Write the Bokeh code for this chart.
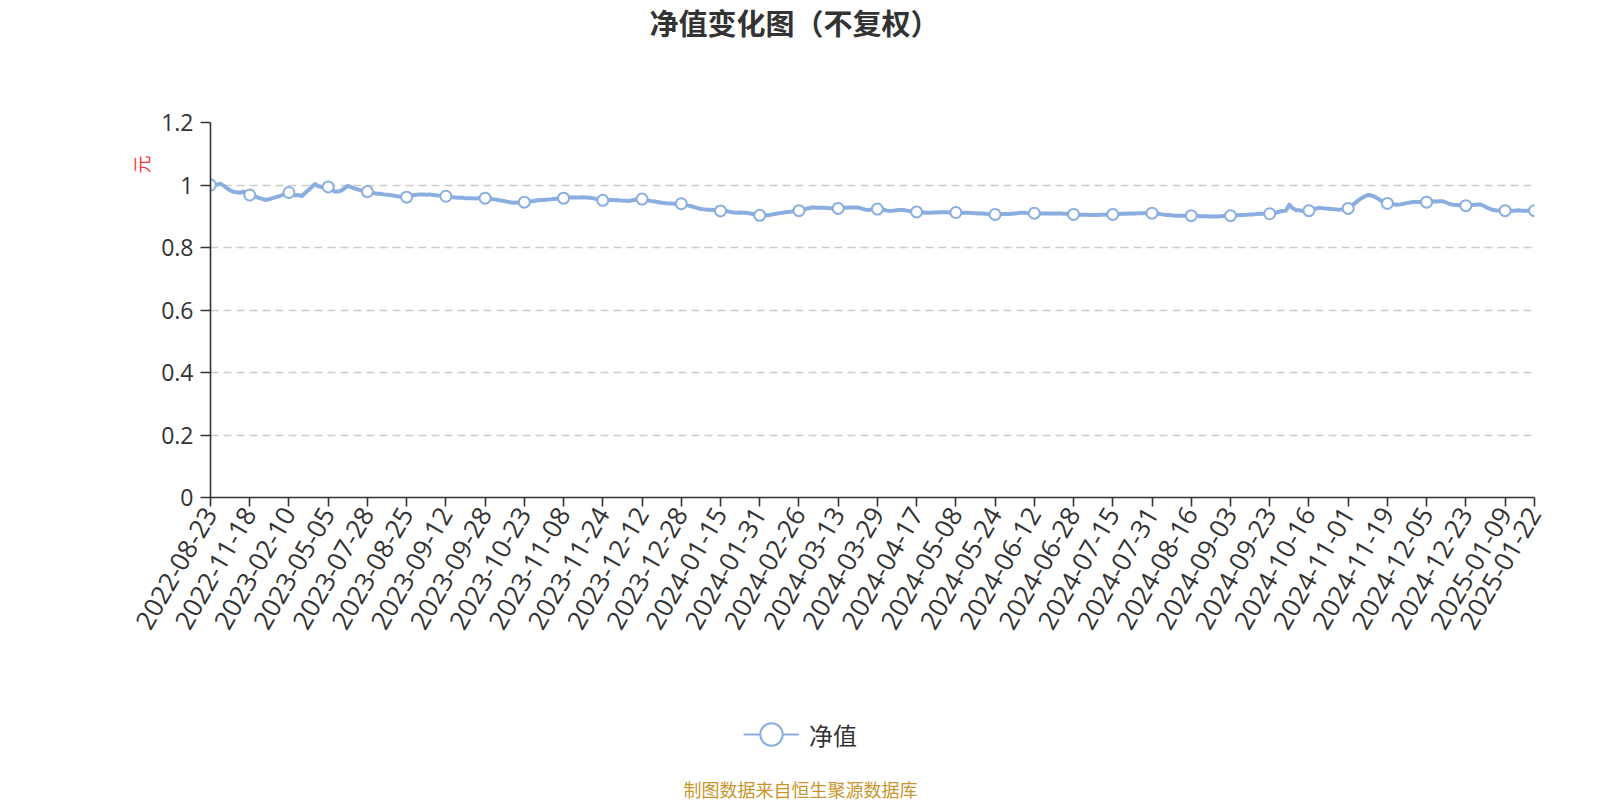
import math
from bokeh.plotting import figure
from bokeh.layouts import column
from bokeh.models import Range1d, FixedTicker, Legend, LegendItem, Title
from bokeh.core.properties import value
from bokeh.embed import file_html
from bokeh.resources import INLINE

# ---------------- data ----------------
nav = [
    1.000, 1.002, 1.001, 1.004, 0.998, 0.990, 0.983, 0.978, 0.977, 0.975, 0.979, 0.973,
    0.968, 0.966, 0.962, 0.958, 0.955, 0.952, 0.955, 0.958, 0.961, 0.964, 0.968, 0.972,
    0.976, 0.971, 0.967, 0.967, 0.965, 0.975, 0.984, 0.994, 1.003, 0.996, 0.993, 0.995,
    0.994, 0.986, 0.979, 0.979, 0.982, 0.990, 0.997, 0.993, 0.989, 0.986, 0.983, 0.981,
    0.979, 0.976, 0.974, 0.972, 0.972, 0.970, 0.969, 0.968, 0.966, 0.964, 0.963, 0.962,
    0.961, 0.964, 0.967, 0.969, 0.970, 0.970, 0.969, 0.970, 0.968, 0.967, 0.966, 0.965,
    0.964, 0.962, 0.961, 0.960, 0.959, 0.959, 0.958, 0.958, 0.958, 0.957, 0.958, 0.958,
    0.958, 0.957, 0.955, 0.954, 0.952, 0.950, 0.948, 0.946, 0.944, 0.943, 0.944, 0.944,
    0.945, 0.946, 0.948, 0.949, 0.951, 0.952, 0.952, 0.953, 0.954, 0.955, 0.956, 0.957,
    0.958, 0.959, 0.960, 0.960, 0.960, 0.960, 0.961, 0.960, 0.959, 0.958, 0.955, 0.953,
    0.951, 0.951, 0.952, 0.952, 0.951, 0.951, 0.950, 0.950, 0.949, 0.951, 0.953, 0.954,
    0.955, 0.953, 0.950, 0.948, 0.947, 0.945, 0.943, 0.942, 0.941, 0.941, 0.940, 0.940,
    0.940, 0.938, 0.935, 0.932, 0.929, 0.926, 0.923, 0.922, 0.921, 0.921, 0.920, 0.919,
    0.917, 0.917, 0.916, 0.914, 0.912, 0.911, 0.912, 0.911, 0.911, 0.909, 0.907, 0.905,
    0.903, 0.902, 0.903, 0.904, 0.906, 0.908, 0.910, 0.911, 0.913, 0.914, 0.915, 0.917,
    0.918, 0.920, 0.923, 0.926, 0.928, 0.928, 0.927, 0.927, 0.927, 0.926, 0.926, 0.925,
    0.925, 0.926, 0.927, 0.928, 0.928, 0.928, 0.928, 0.925, 0.922, 0.920, 0.921, 0.922,
    0.923, 0.921, 0.920, 0.918, 0.917, 0.918, 0.919, 0.920, 0.920, 0.918, 0.916, 0.915,
    0.914, 0.913, 0.912, 0.911, 0.911, 0.912, 0.912, 0.913, 0.913, 0.913, 0.912, 0.912,
    0.912, 0.912, 0.911, 0.911, 0.911, 0.910, 0.910, 0.909, 0.909, 0.908, 0.907, 0.907,
    0.906, 0.906, 0.907, 0.907, 0.907, 0.908, 0.909, 0.910, 0.911, 0.911, 0.910, 0.910,
    0.910, 0.910, 0.909, 0.909, 0.909, 0.909, 0.909, 0.909, 0.909, 0.908, 0.908, 0.907,
    0.906, 0.906, 0.905, 0.905, 0.905, 0.904, 0.904, 0.904, 0.905, 0.905, 0.905, 0.906,
    0.906, 0.907, 0.907, 0.908, 0.908, 0.909, 0.909, 0.909, 0.910, 0.910, 0.910, 0.910,
    0.910, 0.909, 0.908, 0.906, 0.905, 0.904, 0.903, 0.902, 0.902, 0.902, 0.902, 0.902,
    0.902, 0.901, 0.901, 0.900, 0.900, 0.900, 0.899, 0.899, 0.899, 0.900, 0.901, 0.901,
    0.902, 0.902, 0.903, 0.904, 0.904, 0.905, 0.906, 0.906, 0.907, 0.908, 0.908, 0.908,
    0.908, 0.910, 0.912, 0.915, 0.917, 0.918, 0.937, 0.926, 0.920, 0.919, 0.917, 0.917,
    0.918, 0.921, 0.924, 0.927, 0.926, 0.925, 0.924, 0.923, 0.922, 0.921, 0.922, 0.923,
    0.925, 0.933, 0.941, 0.950, 0.957, 0.963, 0.968, 0.967, 0.963, 0.957, 0.950, 0.945,
    0.941, 0.939, 0.938, 0.937, 0.938, 0.940, 0.942, 0.944, 0.946, 0.946, 0.946, 0.945,
    0.945, 0.946, 0.947, 0.947, 0.948, 0.948, 0.944, 0.939, 0.937, 0.936, 0.935, 0.935,
    0.934, 0.935, 0.936, 0.937, 0.938, 0.936, 0.930, 0.925, 0.921, 0.919, 0.918, 0.918,
    0.918, 0.917, 0.918, 0.918, 0.919, 0.918, 0.918, 0.918, 0.919, 0.918,
]

tick_index = [0, 12, 24, 36, 48, 60, 72, 84, 96, 108, 120, 132, 144, 156, 168, 180,
              192, 204, 216, 228, 240, 252, 264, 276, 288, 300, 312, 324, 336, 348,
              360, 372, 384, 396, 405]
tick_labels = ["2022-08-23", "2022-11-18", "2023-02-10", "2023-05-05", "2023-07-28",
               "2023-08-25", "2023-09-12", "2023-09-28", "2023-10-23", "2023-11-08",
               "2023-11-24", "2023-12-12", "2023-12-28", "2024-01-15", "2024-01-31",
               "2024-02-26", "2024-03-13", "2024-03-29", "2024-04-17", "2024-05-08",
               "2024-05-24", "2024-06-12", "2024-06-28", "2024-07-15", "2024-07-31",
               "2024-08-16", "2024-09-03", "2024-09-23", "2024-10-16", "2024-11-01",
               "2024-11-19", "2024-12-05", "2024-12-23", "2025-01-09", "2025-01-22"]
y_ticks = [0, 0.2, 0.4, 0.6, 0.8, 1, 1.2]

title_text = "净值变化图（不复权）"
series_name = "净值"
unit_text = "元"
source_text = "制图数据来自恒生聚源数据库"

# ---------------- styling / layout ----------------
PAGE_W = 1600
TOP_H, MAIN_H, BOT_H = 100, 560, 140
FRAME_L, FRAME_R, FRAME_T, FRAME_B = 210, 1534, 122, 497   # page pixels
LINE_COLOR = "#8aaedf"
TEXT_COLOR = "#333333"
CJK = "Noto Sans CJK SC"
NUM = "Open Sans"


def blank_fig(h):
    # strip whose frame is aligned with the chart frame; x in page pixels, y top-down
    f = figure(width=PAGE_W, height=h, output_backend="svg", toolbar_location=None,
               x_range=Range1d(FRAME_L, FRAME_R), y_range=Range1d(h, 0),
               x_axis_type=None, y_axis_type=None,
               min_border_left=FRAME_L, min_border_right=PAGE_W - FRAME_R,
               min_border_top=0, min_border_bottom=0)
    f.outline_line_color = None
    f.xgrid.visible = False
    f.ygrid.visible = False
    f.background_fill_color = "white"
    f.border_fill_color = "white"
    return f


# ---- title strip ----
top = blank_fig(TOP_H)
top.text(x=[794], y=[21], text=[title_text], text_align="center",
         text_baseline="middle", text_font=value(CJK), text_font_size=value("29px"),
         text_font_style="bold", text_color=TEXT_COLOR)

# ---- main chart ----
n = len(nav)
x_idx = list(range(n))
p = figure(width=PAGE_W, height=MAIN_H, output_backend="svg", toolbar_location=None,
           x_range=Range1d(0, n - 1), y_range=Range1d(0, 1.2),
           min_border_left=FRAME_L, min_border_right=PAGE_W - FRAME_R,
           min_border_top=FRAME_T - TOP_H, min_border_bottom=TOP_H + MAIN_H - FRAME_B)
p.outline_line_color = None
p.background_fill_color = "white"
p.border_fill_color = "white"

xa = p.xaxis[0]
xa.ticker = FixedTicker(ticks=tick_index)
xa.major_label_overrides = {i: s for i, s in zip(tick_index, tick_labels)}
xa.major_label_orientation = math.pi / 3
xa.major_label_text_font = NUM
xa.major_label_text_font_size = "26px"
xa.major_label_text_color = TEXT_COLOR
xa.major_label_standoff = 3
xa.axis_line_color = TEXT_COLOR
xa.axis_line_width = 1.6
xa.major_tick_line_color = TEXT_COLOR
xa.major_tick_line_width = 1.6
xa.major_tick_out = 9
xa.major_tick_in = 0
xa.minor_tick_line_color = None

ya = p.yaxis[0]
ya.ticker = FixedTicker(ticks=y_ticks)
ya.major_label_overrides = {0: "0", 1: "1"}
ya.major_label_text_font = NUM
ya.major_label_text_font_size = "23px"
ya.major_label_text_color = TEXT_COLOR
ya.major_label_standoff = 7
ya.axis_line_color = TEXT_COLOR
ya.axis_line_width = 1.6
ya.major_tick_line_color = TEXT_COLOR
ya.major_tick_line_width = 1.6
ya.major_tick_out = 10
ya.major_tick_in = 0
ya.minor_tick_line_color = None

p.xgrid.visible = False
p.ygrid.ticker = FixedTicker(ticks=y_ticks[1:])
p.ygrid.grid_line_color = "#cccccc"
p.ygrid.grid_line_width = 1.5
p.ygrid.grid_line_dash = "8 5"

line_r = p.line(x_idx, nav, line_color=LINE_COLOR, line_width=4, line_join="round")
mark_y = [nav[i] for i in tick_index]
p.scatter(tick_index, mark_y, marker="circle", size=11, fill_color="white",
          line_color=LINE_COLOR, line_width=2)

unit_title = Title(text=unit_text, align="right", vertical_align="bottom", offset=33,
                   text_font=CJK, text_font_size="18px", text_font_style="normal",
                   text_color="#ff3333")
p.add_layout(unit_title, "left")

# ---- legend + source strip ----
bot = blank_fig(BOT_H)
leg_line = bot.line([100, 120], [-50, -50], line_color=LINE_COLOR, line_width=2)
leg_mark = bot.scatter([110], [-50], marker="circle", size=12, fill_color="white",
                       line_color=LINE_COLOR, line_width=2)
legend = Legend(items=[LegendItem(label=series_name, renderers=[leg_line, leg_mark])],
                location=(743 - FRAME_L, 38), orientation="horizontal",
                glyph_width=56, glyph_height=56, label_standoff=10,
                padding=0, margin=0, border_line_color=None,
                background_fill_alpha=0,
                label_text_font=CJK, label_text_font_size="24px",
                label_text_color=TEXT_COLOR, label_text_baseline="middle")
bot.add_layout(legend)
bot.text(x=[800], y=[128], text=[source_text], text_align="center",
         text_baseline="middle", text_font=value(CJK), text_font_size=value("18px"),
         text_color="#c8962c")

layout = column(top, p, bot, spacing=0)
open("out.html", "w").write(file_html(layout, INLINE))
